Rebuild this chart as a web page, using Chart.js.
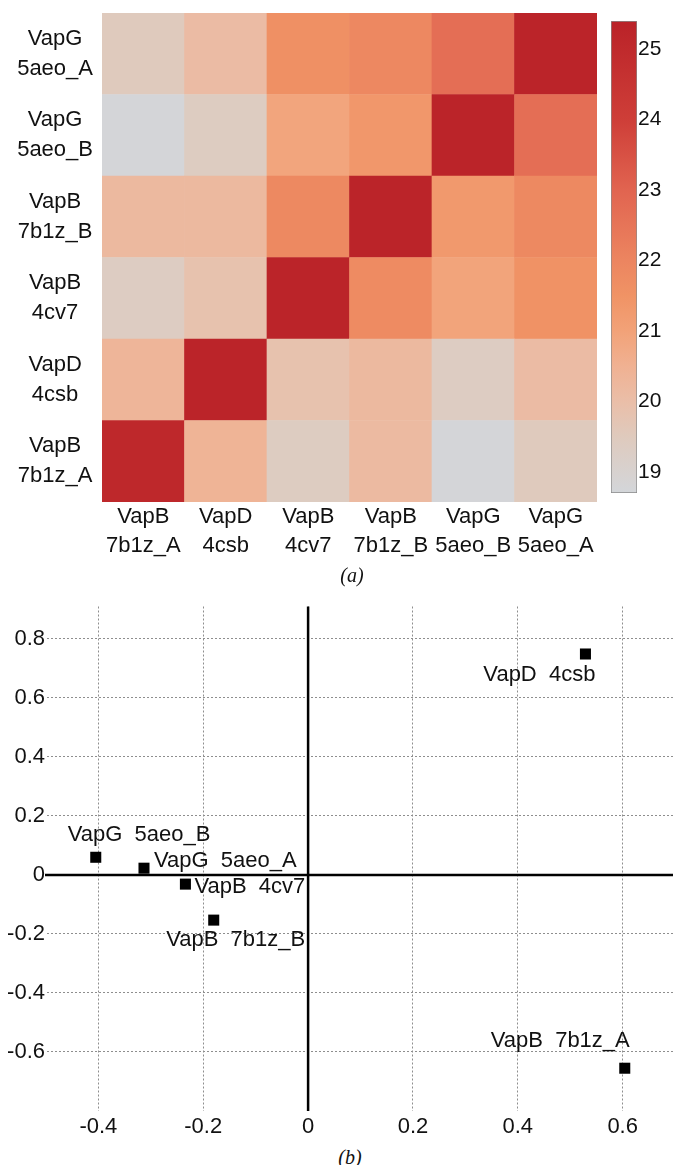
<!DOCTYPE html>
<html>
<head>
<meta charset="utf-8">
<script src="https://cdn.jsdelivr.net/npm/chart.js@4.4.1/dist/chart.umd.min.js"></script>
<style>
  body { margin: 0; background: #fff; }
  #page { position: relative; width: 673px; height: 1165px; overflow: hidden; }
  .box { position: absolute; }
  .cap { position: absolute; font: italic 20px "Liberation Serif", "Times New Roman", serif; transform: translate(-50%, -50%); color: #111; }
</style>
</head>
<body>
<div id="page">
  <div class="box" style="left:0;top:0;width:605px;height:566px"><canvas id="heat"></canvas></div>
  <div class="box" style="left:600px;top:0;width:73px;height:520px"><canvas id="scale"></canvas></div>
  <div class="cap" style="left:352px;top:575px">(a)</div>
  <div class="box" style="left:0;top:600px;width:673px;height:540px"><canvas id="pca"></canvas></div>
  <div class="cap" style="left:350px;top:1157px">(b)</div>
</div>
<script>
const proteins = ['VapB', 'VapD', 'VapB', 'VapB', 'VapG', 'VapG'];
const chains = ['7b1z_A', '4csb', '4cv7', '7b1z_B', '5aeo_B', '5aeo_A'];

// pairwise scores, rows/cols in the same order as chains (row 0 = bottom row)
const scores = [
    [25.1, 20.4, 19.4, 20.15, 18.75, 19.5],
    [20.35, 25.3, 19.85, 20.2, 19.35, 20.1],
    [19.35, 19.85, 25.3, 21.8, 20.95, 21.55],
    [20.2, 20.2, 21.85, 25.3, 21.3, 21.85],
    [18.75, 19.4, 20.9, 21.35, 25.3, 22.7],
    [19.5, 20.1, 21.6, 21.9, 22.7, 25.3],
];
const colorMin = 18.7;
const colorMax = 25.4;
const colorTicks = [19, 20, 21, 22, 23, 24, 25];

// PCA coordinates
const pc1 = [0.604, 0.529, -0.234, -0.180, -0.405, -0.313];
const pc2 = [-0.655, 0.749, -0.031, -0.153, 0.060, 0.023];
const xTicks = [-0.4, -0.2, 0, 0.2, 0.4, 0.6];
const yTicks = [-0.6, -0.4, -0.2, 0, 0.2, 0.4, 0.6, 0.8];

// colour ramp (grey -> peach -> red)
const ramp = [
    [18.7, [211, 214, 218]],
    [19.5, [223, 202, 189]],
    [20.0, [234, 190, 168]],
    [20.5, [240, 177, 146]],
    [21.0, [242, 162, 120]],
    [21.5, [240, 147, 101]],
    [22.0, [236, 133, 96]],
    [23.0, [225, 100, 80]],
    [24.0, [206, 62, 56]],
    [25.4, [186, 34, 40]],
];

function colorFor(v) {
    if (v <= ramp[0][0]) return "rgb(" + ramp[0][1] + ")";
    for (let i = 1; i < ramp.length; i++) {
        if (v <= ramp[i][0]) {
            const [v0, c0] = ramp[i - 1];
            const [v1, c1] = ramp[i];
            const t = (v - v0) / (v1 - v0);
            const c = c0.map((a, k) => Math.round(a + (c1[k] - a) * t));
            return "rgb(" + c + ")";
        }
    }
    return "rgb(" + ramp[ramp.length - 1][1] + ")";
}

// no extra room for edge labels, the layout padding decides
function noEdgePad(a) {
    a.paddingTop = 0;
    a.paddingBottom = 0;
    a.paddingLeft = 0;
    a.paddingRight = 0;
}

Chart.defaults.font.family = "'Liberation Sans', Arial, sans-serif";
Chart.defaults.font.size = 22;
Chart.defaults.color = "#111";
Chart.defaults.animation = false;
Chart.defaults.plugins.legend.display = false;

// heatmap: stacked bars, one dataset per row
new Chart(document.getElementById("heat"), {
    type: "bar",
    data: {
        labels: chains.map((c, i) => [proteins[i], c]),
        datasets: chains.map((c, r) => ({
            label: proteins[r] + " " + c,
            data: chains.map(() => 1),
            backgroundColor: scores[r].map(colorFor),
            borderWidth: 0,
            barPercentage: 1,
            categoryPercentage: 1,
        })),
    },
    options: {
        responsive: true,
        maintainAspectRatio: false,
        layout: { padding: { top: 13, right: 8 } },
        plugins: {
            tooltip: {
                callbacks: {
                    label: (ctx) => ctx.dataset.label + ": " + scores[ctx.datasetIndex][ctx.dataIndex],
                },
            },
        },
        scales: {
            x: {
                stacked: true,
                grid: { display: false, drawTicks: false },
                border: { display: false },
                ticks: { padding: 0, font: { size: 22, lineHeight: 1.33 } },
                afterFit: (a) => { noEdgePad(a); a.height = 64; },
            },
            y: {
                stacked: true,
                min: 0,
                max: 6,
                grid: { display: false, drawTicks: false },
                border: { display: false },
                afterBuildTicks: (a) => { a.ticks = chains.map((c, i) => ({ value: i + 0.5 })); },
                afterFit: (a) => { noEdgePad(a); a.width = 102; },
                ticks: {
                    crossAlign: "center",
                    padding: 9,
                    font: { size: 22, lineHeight: 1.36 },
                    callback: (v) => {
                        const i = Math.floor(v);
                        return [proteins[i], chains[i]];
                    },
                },
            },
        },
    },
});

// colour bar
new Chart(document.getElementById("scale"), {
    type: "bar",
    data: {
        labels: [""],
        datasets: [
            {
                data: [[colorMin, colorMax]],
                backgroundColor: (ctx) => {
                    const chart = ctx.chart;
                    if (!chart.chartArea) return null;
                    const y = chart.scales.y;
                    const g = chart.ctx.createLinearGradient(0, y.getPixelForValue(colorMin), 0, y.getPixelForValue(colorMax));
                    ramp.forEach(([v, c]) => g.addColorStop((v - colorMin) / (colorMax - colorMin), "rgb(" + c + ")"));
                    return g;
                },
                borderColor: "#8a8a8a",
                borderWidth: 1,
                borderSkipped: false,
                barPercentage: 1,
                categoryPercentage: 1,
            },
        ],
    },
    options: {
        responsive: true,
        maintainAspectRatio: false,
        layout: { padding: { left: 11, top: 21, bottom: 27, right: 0 } },
        plugins: { tooltip: { enabled: false } },
        scales: {
            x: { display: false },
            y: {
                position: "right",
                min: colorMin,
                max: colorMax,
                grid: { display: false, drawTicks: false },
                border: { display: false },
                afterBuildTicks: (a) => { a.ticks = colorTicks.map((v) => ({ value: v })); },
                afterFit: (a) => { noEdgePad(a); a.width = 36; },
                ticks: { padding: 1, font: { size: 21 } },
            },
        },
    },
});

// PCA scatter
const labelPlace = [
    { dx: 5, dy: -27, align: "right" },
    { dx: 10, dy: 21, align: "right" },
    { dx: 9, dy: 3, align: "left" },
    { dx: 22, dy: 20, align: "center" },
    { dx: -28, dy: -22, align: "left" },
    { dx: 10, dy: -7, align: "left" },
];

const zeroLines = {
    id: "zeroLines",
    beforeDatasetsDraw(chart) {
        const { ctx, chartArea: a, scales } = chart;
        const x0 = scales.x.getPixelForValue(0);
        const y0 = scales.y.getPixelForValue(0);
        ctx.save();
        ctx.strokeStyle = "#000";
        ctx.lineWidth = 2.5;
        ctx.beginPath();
        ctx.moveTo(x0, a.top);
        ctx.lineTo(x0, a.bottom);
        ctx.moveTo(a.left - 2, y0);
        ctx.lineTo(a.right, y0);
        ctx.stroke();
        ctx.restore();
    },
};

const pointNames = {
    id: "pointNames",
    afterDatasetsDraw(chart) {
        const ctx = chart.ctx;
        const meta = chart.getDatasetMeta(0);
        ctx.save();
        ctx.font = "22px 'Liberation Sans', Arial, sans-serif";
        ctx.fillStyle = "#111";
        ctx.textBaseline = "middle";
        meta.data.forEach((pt, i) => {
            const p = labelPlace[i];
            ctx.textAlign = p.align;
            ctx.fillText(proteins[i] + "  " + chains[i], pt.x + p.dx, pt.y + p.dy);
        });
        ctx.restore();
    },
};

const fmt = (v) => String(Number(v.toFixed(1)) || 0);

new Chart(document.getElementById("pca"), {
    type: "scatter",
    data: {
        datasets: [
            {
                label: "PCA",
                data: pc1.map((x, i) => ({ x: x, y: pc2[i] })),
                pointStyle: "rect",
                pointRadius: 7.8,
                pointHoverRadius: 7.8,
                backgroundColor: "#000",
                borderWidth: 0,
                clip: false,
            },
        ],
    },
    options: {
        responsive: true,
        maintainAspectRatio: false,
        layout: { autoPadding: false, padding: { top: 6.5, right: 0 } },
        plugins: {
            tooltip: {
                callbacks: { label: (ctx) => proteins[ctx.dataIndex] + " " + chains[ctx.dataIndex] },
            },
        },
        scales: {
            x: {
                type: "linear",
                min: -0.498,
                max: 0.696,
                afterBuildTicks: (a) => { a.ticks = xTicks.map((v) => ({ value: v })); },
                afterFit: (a) => { noEdgePad(a); a.height = 29; },
                grid: { color: "#8e8e8e", lineWidth: 1, drawTicks: false },
                border: { display: false, dash: [2, 2] },
                ticks: { padding: 3, font: { size: 22 }, callback: fmt },
            },
            y: {
                min: -0.8,
                max: 0.91,
                afterBuildTicks: (a) => { a.ticks = yTicks.map((v) => ({ value: v })); },
                afterFit: (a) => { noEdgePad(a); a.width = 47; },
                grid: { color: "#8e8e8e", lineWidth: 1, drawTicks: false },
                border: { display: false, dash: [2, 2] },
                ticks: { padding: 2, font: { size: 22 }, callback: fmt },
            },
        },
    },
    plugins: [zeroLines, pointNames],
});
</script>
</body>
</html>
